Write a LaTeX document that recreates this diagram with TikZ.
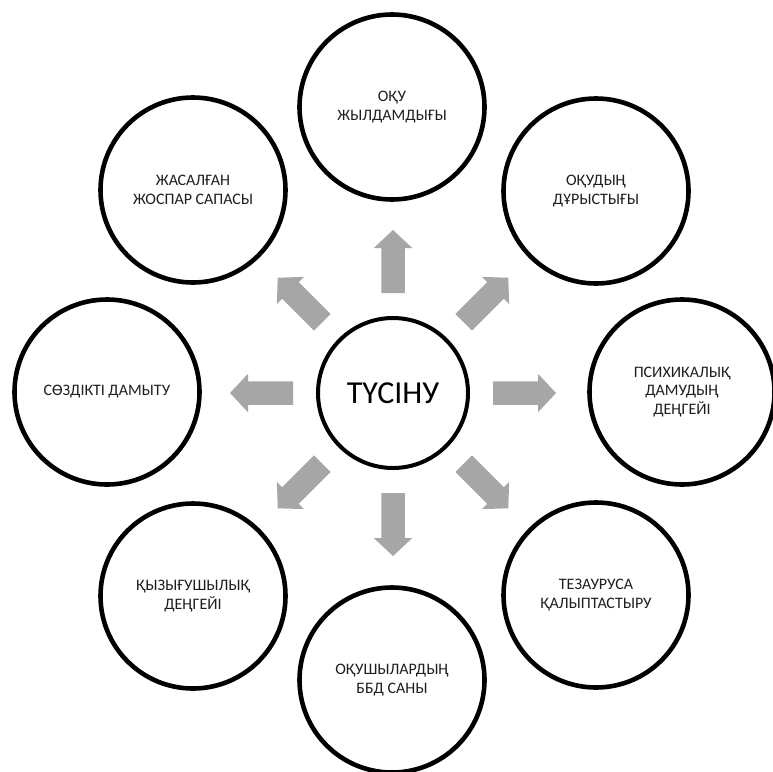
\documentclass[tikz,border=0pt]{standalone}
\usepackage{fontspec}
\setmainfont{Carlito}
\definecolor{arrowgray}{RGB}{166,166,166}
\definecolor{textdark}{RGB}{30,30,30}
\tikzset{
  outercirc/.style={circle, draw=black, line width=4.6pt, minimum size=185pt, inner sep=0pt,
    align=center, text=textdark, font=\fontsize{16}{18.5}\selectfont},
  centercirc/.style={circle, draw=black, line width=4pt, minimum size=150pt, inner sep=0pt,
    align=center, text=black, font=\fontsize{32}{37}\selectfont},
  blockarrow/.style={fill=arrowgray}
}
\begin{document}
\begin{tikzpicture}[x=1pt,y=-1pt]
\useasboundingbox (0,0) rectangle (773,771);
\fill[white] (0,0) rectangle (773,771);
% block arrows
\foreach \a in {0,45,...,315}{
  \begin{scope}[shift={(393,393)}, rotate=\a]
    \fill[blockarrow] (100,-11.75) -- (145,-11.75) -- (145,-19.25) -- (163,0)
      -- (145,19.25) -- (145,11.75) -- (100,11.75) -- cycle;
  \end{scope}
}
\node[centercirc] (center) at (393,393) {ТҮСІНУ};
\node[outercirc] (top) at (392,107) {ОҚУ\\ЖЫЛДАМДЫҒЫ};
\node[outercirc] (ur) at (596,191) {ОҚУДЫҢ\\ДҰРЫСТЫҒЫ};
\node[outercirc] (right) at (682,392) {ПСИХИКАЛЫҚ\\ДАМУДЫҢ\\ДЕҢГЕЙІ};
\node[outercirc] (lr) at (596,595) {ТЕЗАУРУСА\\ҚАЛЫПТАСТЫРУ};
\node[outercirc] (bottom) at (392,680) {ОҚУШЫЛАРДЫҢ\\ББД САНЫ};
\node[outercirc] (ll) at (193,596) {ҚЫЗЫҒУШЫЛЫҚ\\ДЕҢГЕЙІ};
\node[outercirc] (left) at (107,392) {СӨЗДІКТІ ДАМЫТУ};
\node[outercirc] (ul) at (193,190) {ЖАСАЛҒАН\\ЖОСПАР САПАСЫ};
\end{tikzpicture}
\end{document}
